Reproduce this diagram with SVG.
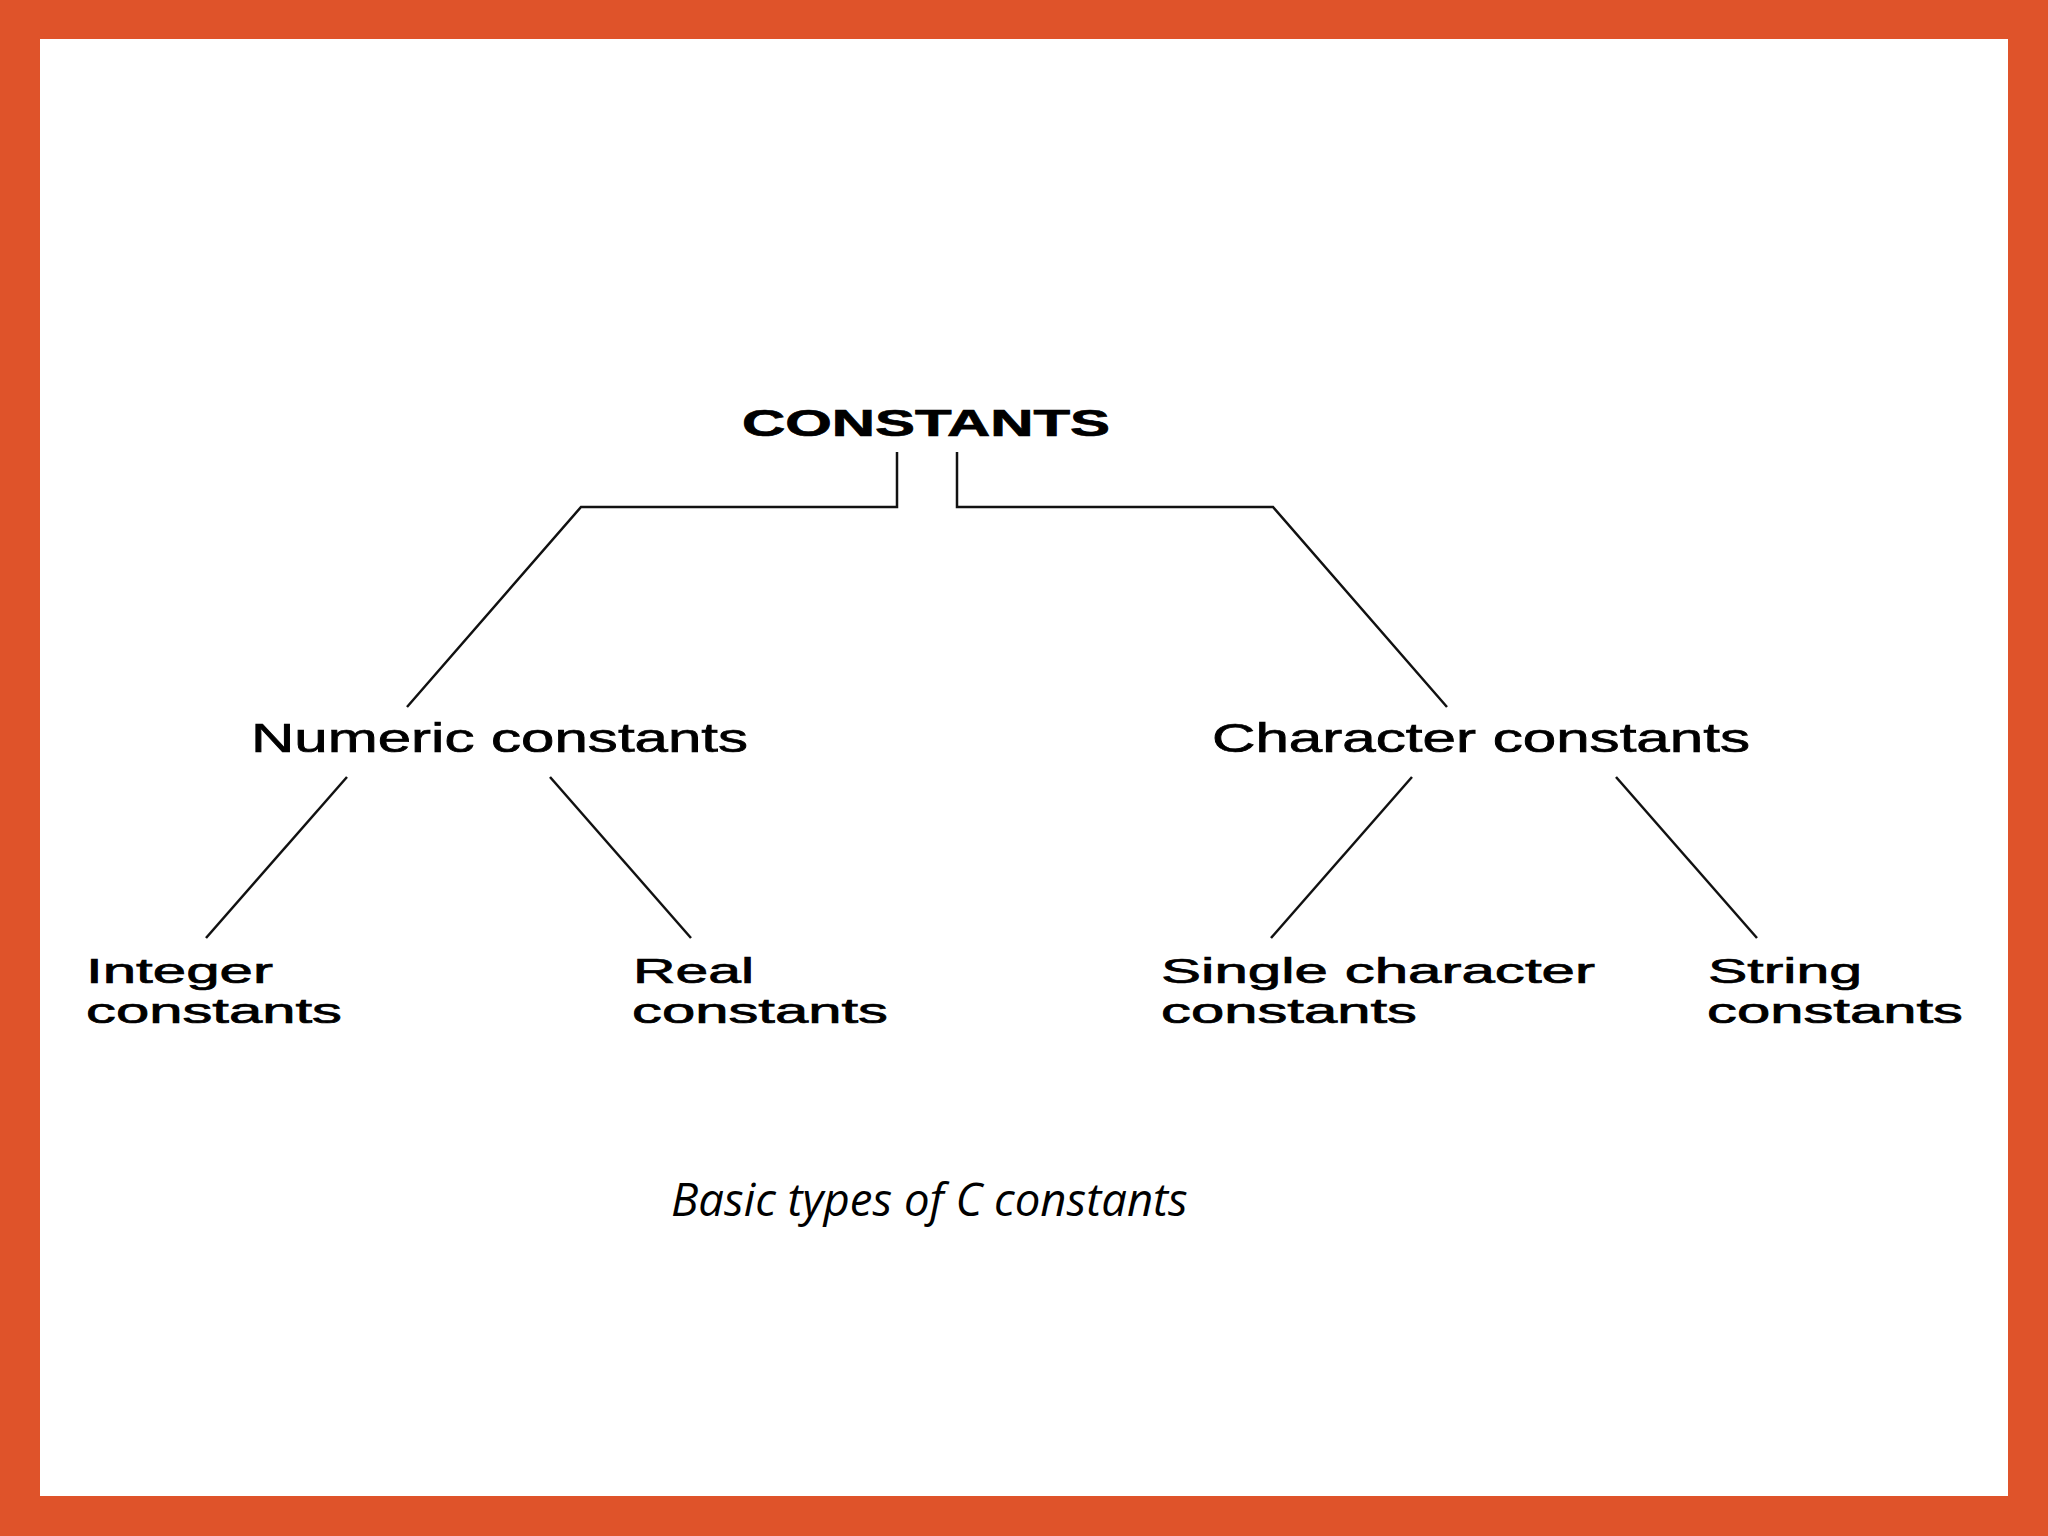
<svg xmlns="http://www.w3.org/2000/svg" width="2048" height="1536" viewBox="0 0 2048 1536">
<style>
.ln{stroke:#111;stroke-width:2.5;fill:none;stroke-linejoin:miter}
.t{font-family:"Liberation Sans",Arial,sans-serif;fill:#000;stroke:#000;stroke-width:0.7}
.mid{font-size:41px}
.leaf{font-size:35px}
.root{font-size:36px;font-weight:bold}
.cap{font-family:"Open Sans","Noto Sans",sans-serif;font-style:italic;font-size:45.5px;fill:#000}
</style>
<rect x="0" y="0" width="2048" height="1536" fill="#DF532A"/>
<rect x="40" y="39" width="1968" height="1457" fill="#FFFFFF"/>
<g id="connectors">
<polyline class="ln" points="897,452 897,507 581,507 407,707"/>
<polyline class="ln" points="957,452 957,507 1273,507 1447,707"/>
<line class="ln" x1="347" y1="777" x2="206" y2="938"/>
<line class="ln" x1="550" y1="777" x2="691" y2="938"/>
<line class="ln" x1="1412" y1="777" x2="1271" y2="938"/>
<line class="ln" x1="1616" y1="777" x2="1757" y2="938"/>
</g>
<g id="constants">
<text class="t root" x="742" y="436" textLength="368" lengthAdjust="spacingAndGlyphs">CONSTANTS</text>
</g>
<g id="numeric">
<text class="t mid" x="251" y="752" textLength="497" lengthAdjust="spacingAndGlyphs">Numeric constants</text>
</g>
<g id="character">
<text class="t mid" x="1212" y="752" textLength="538" lengthAdjust="spacingAndGlyphs">Character constants</text>
</g>
<g id="integer">
<text class="t leaf" x="86" y="982.5" textLength="187" lengthAdjust="spacingAndGlyphs">Integer</text>
<text class="t leaf" x="86" y="1022.5" textLength="256" lengthAdjust="spacingAndGlyphs">constants</text>
</g>
<g id="real">
<text class="t leaf" x="633" y="982.5" textLength="121" lengthAdjust="spacingAndGlyphs">Real</text>
<text class="t leaf" x="632" y="1022.5" textLength="256" lengthAdjust="spacingAndGlyphs">constants</text>
</g>
<g id="single">
<text class="t leaf" x="1161" y="982.5" textLength="434" lengthAdjust="spacingAndGlyphs">Single character</text>
<text class="t leaf" x="1161" y="1022.5" textLength="256" lengthAdjust="spacingAndGlyphs">constants</text>
</g>
<g id="string">
<text class="t leaf" x="1708" y="982.5" textLength="154" lengthAdjust="spacingAndGlyphs">String</text>
<text class="t leaf" x="1707" y="1022.5" textLength="256" lengthAdjust="spacingAndGlyphs">constants</text>
</g>
<g id="caption">
<text class="cap" x="671" y="1216">Basic types of C constants</text>
</g>
</svg>
